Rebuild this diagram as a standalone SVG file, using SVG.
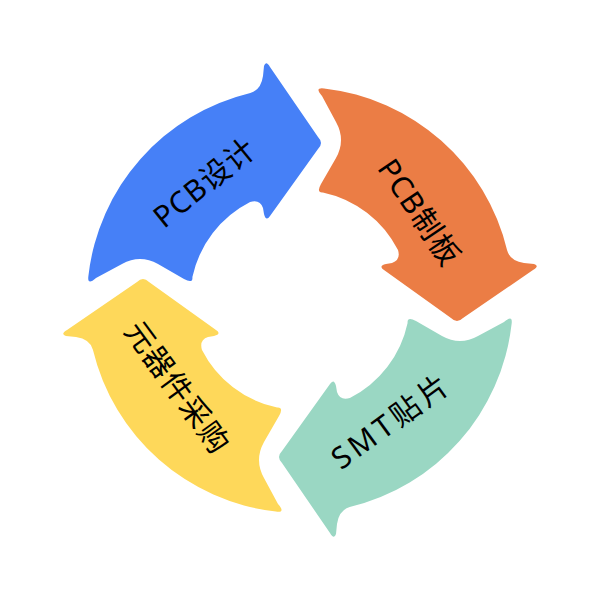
<svg xmlns="http://www.w3.org/2000/svg" xmlns:xlink="http://www.w3.org/1999/xlink" width="600" height="600" viewBox="0 0 600 600">
<style>
.lbl{font-family:"Noto Sans","Noto Sans CJK SC",sans-serif;font-size:30px;fill:#000;text-anchor:middle;dominant-baseline:central;letter-spacing:1px}
</style>
<defs>
<path id="arrow" d="M96,278 L122,264 Q140,254 158,264 L184,279 Q193,284 192.4,277.1 A110,110 0 0 1 250.1,202 Q260,199 263,208 L264,214 Q266,222 270,216 L318,149 Q324,143 318,137 L270,67 Q266,60 264,66 L263,76 Q261,90 250.3,92.9 A213,213 0 0 0 88.4,275.9 Q87,286 96,278 Z"/>
</defs>
<rect width="600" height="600" fill="#fff"/>
<g id="pcb-design">
<use xlink:href="#arrow" fill="#4680F7"/>
<text class="lbl" transform="translate(204,182) rotate(-39)">PCB设计</text>
</g>
<g id="pcb-fab">
<use xlink:href="#arrow" fill="#EB7D45" transform="rotate(90 300 300)"/>
<text class="lbl" transform="translate(420,212) rotate(56)">PCB制板</text>
</g>
<g id="smt">
<use xlink:href="#arrow" fill="#9AD7C3" transform="rotate(180 300 300)"/>
<text class="lbl" transform="translate(391,420) rotate(-36)" style="letter-spacing:4px">SMT贴片</text>
</g>
<g id="purchase">
<use xlink:href="#arrow" fill="#FED85A" transform="rotate(270 300 300)"/>
<text class="lbl" transform="translate(178,387) rotate(54)">元器件采购</text>
</g>
<g id="connectors"></g>
</svg>
